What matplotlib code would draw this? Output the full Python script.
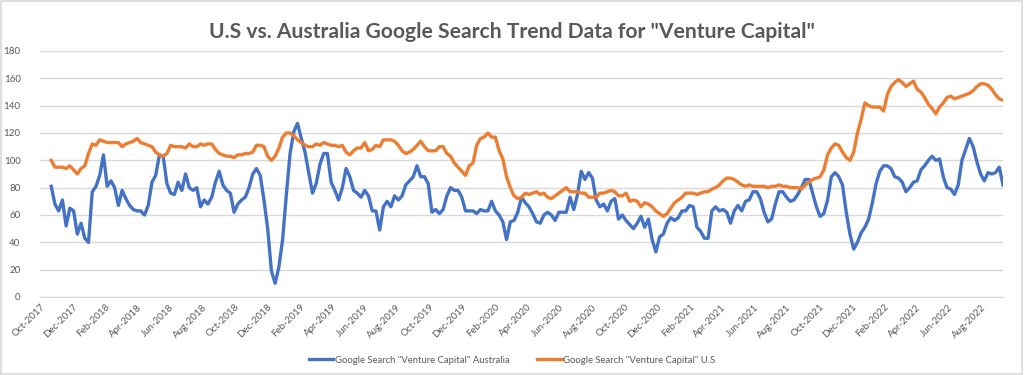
import matplotlib
matplotlib.use("Agg")
import matplotlib.pyplot as plt
import matplotlib.dates as mdates
import pandas as pd

# Weekly Google Trends values, first week 2017-10-22
start_date = "2017-10-22"

us_values = [
	100, 95, 95, 95, 94, 96, 93, 90, 94, 96,
	105, 112, 111, 115, 114, 113, 113, 113, 113, 110,
	112, 113, 114, 116, 113, 112, 111, 110, 106, 104,
	103, 105, 111, 110, 110, 110, 109, 112, 110, 110,
	112, 111, 112, 112, 108, 105, 104, 103, 103, 102,
	104, 104, 105, 105, 106, 111, 111,
	110, 103, 100, 103, 109, 117, 120, 120, 118, 115,
	113, 111, 110, 110, 112, 111, 113, 112, 111, 111,
	110, 111, 106, 104, 107, 109, 109, 113, 107, 108,
	111, 110, 115, 115, 115, 114, 111, 107, 105, 106,
	108, 111, 114, 110, 107, 107, 107, 110, 110, 105,
	103, 98, 95, 92, 89, 96, 98, 111, 116, 117,
	120, 117, 117, 107,
	101, 88, 80, 74, 72, 73, 76, 75, 76, 77,
	75, 76, 73, 72, 74, 76, 78, 80, 77, 77,
	77, 76, 76, 73, 73, 73, 76, 76, 77, 78,
	77, 74, 74, 76, 70, 71, 70, 66, 69, 68,
	66, 63, 61, 59, 61, 65, 69, 71, 73, 76,
	76, 76, 75, 76, 77, 77, 79, 80, 82, 85,
	87, 87, 86, 84, 82,
	81, 82, 81, 81, 81, 81, 80, 81, 81, 82,
	81, 81, 80, 80, 80, 79, 82, 84, 86, 87,
	88, 93, 104, 109, 112, 111, 106, 102, 100, 106,
	120, 130, 142, 140, 139, 139, 139, 136, 148, 154,
	157, 159, 157, 154, 156, 158, 152, 150, 146, 141,
	138, 134, 139, 142, 146, 147, 145, 146, 147, 148,
	149, 151, 154, 156, 156, 155, 152, 148, 145, 144,
]

au_values = [
	81, 68, 63, 71, 52, 65, 63, 46, 54, 43,
	40, 77, 81, 89, 104, 81, 85, 80, 67, 78,
	72, 67, 64, 63, 63, 60, 67, 84, 89, 104,
	103, 83, 76, 75, 84, 78, 90, 80, 78, 80,
	66, 71, 68, 73, 84, 92, 82, 78, 76, 62,
	68, 71, 73, 80, 90, 94, 89,
	71, 50, 19, 10, 22, 42, 75, 105, 121, 127,
	116, 106, 91, 76, 83, 97, 105, 105, 84, 78,
	71, 80, 94, 88, 78, 76, 73, 78, 74, 63,
	63, 49, 66, 70, 66, 74, 71, 74, 82, 85,
	88, 96, 88, 88, 83, 62, 64, 61, 64, 74,
	80, 78, 78, 73, 63, 63, 63, 61, 64, 63,
	63, 70, 63, 60,
	55, 42, 55, 56, 62, 73, 69, 66, 61, 55,
	54, 60, 62, 60, 56, 62, 62, 62, 73, 64,
	75, 92, 86, 91, 87, 71, 66, 68, 63, 70,
	72, 57, 60, 56, 53, 50, 54, 59, 51, 57,
	42, 33, 44, 46, 54, 58, 56, 58, 63, 63,
	67, 66, 51, 48, 43, 43, 63, 66, 63,
	64, 62, 54, 63, 67, 63, 70, 71, 77, 77,
	72, 62, 55, 57, 68, 77, 77, 73, 70, 71,
	75, 80, 86, 86, 76, 66, 59, 61, 71, 88,
	91, 88, 82, 62, 46, 35, 40, 47, 51, 57,
	69, 83, 92, 96, 96, 94, 88, 87, 84, 77,
	80, 84, 85, 93, 96, 100, 103, 100, 101, 88,
	80, 79, 75, 82, 100, 108, 116, 110, 99, 90,
	85, 91, 90, 91, 95, 82,
]

title = 'U.S vs. Australia Google Search Trend Data for "Venture Capital"'
au_label = 'Google Search "Venture Capital" Australia'
us_label = 'Google Search "Venture Capital" U.S'

BLUE = "#4472C4"
ORANGE = "#ED7D31"
GREY_TEXT = "#595959"
GRID = "#D9D9D9"

plt.rcParams["font.family"] = ["Lato", "DejaVu Sans"]

dates = pd.date_range(start_date, periods=len(us_values), freq="7D")

fig = plt.figure(figsize=(10.24, 3.75), dpi=100)
ax = fig.add_axes([40 / 1024, 1 - 297 / 375, 963 / 1024, 246 / 375])

ax.plot(dates, au_values, color=BLUE, lw=2.4, label=au_label, solid_joinstyle="round")
ax.plot(dates, us_values, color=ORANGE, lw=2.4, label=us_label, solid_joinstyle="round")

# Axes formatting, Excel style
ax.set_ylim(0, 180)
ax.set_yticks(range(0, 181, 20))
ax.set_xlim(pd.Timestamp("2017-10-01"), dates[-1])
ax.xaxis.set_major_locator(mdates.MonthLocator(bymonth=[2, 4, 6, 8, 10, 12]))
ax.xaxis.set_major_formatter(mdates.DateFormatter("%b-%Y"))
for lbl in ax.get_xticklabels():
	lbl.set_rotation(45)
	lbl.set_ha("right")
	lbl.set_rotation_mode("anchor")

ax.grid(axis="y", color=GRID, lw=1)
ax.set_axisbelow(True)
for side in ["top", "right", "left"]:
	ax.spines[side].set_visible(False)
ax.spines["bottom"].set_color(GRID)
ax.tick_params(length=0, labelsize=7, labelcolor=GREY_TEXT)
ax.tick_params(axis="y", pad=14)
ax.tick_params(axis="x", pad=4)

fig.suptitle(title, y=0.94, fontsize=15.2, fontweight="bold", color=GREY_TEXT)

fig.legend(loc="lower center", bbox_to_anchor=(0.5, 0.005), ncol=2, frameon=False,
	fontsize=6.8, labelcolor=GREY_TEXT, handlelength=2.6, handletextpad=0.15, columnspacing=2.9)

# light chart border
fig.patches.append(plt.Rectangle((0.001, 0.002), 0.997, 0.995, transform=fig.transFigure,
	fill=False, edgecolor=GRID, lw=1.2))

fig.savefig("out.png", dpi=100)
